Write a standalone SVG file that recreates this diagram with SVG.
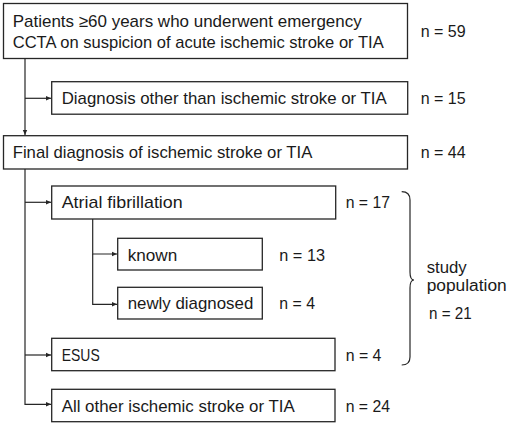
<svg xmlns="http://www.w3.org/2000/svg" width="510" height="426" viewBox="0 0 510 426">
<defs>
<style>
.box{fill:#fff;stroke:#262626;stroke-width:1.3}
.t{font-family:"Liberation Sans",Arial,sans-serif;font-size:17px;fill:#1a1a1a}
.s{font-size:16px}
.c{fill:none;stroke:#262626;stroke-width:1.2}
</style>
<marker id="ah" markerWidth="6" markerHeight="6" refX="5" refY="3" orient="auto" markerUnits="userSpaceOnUse">
<path d="M0,0.8 L5,3 L0,5.2 Z" fill="#262626"/>
</marker>
</defs>
<rect width="510" height="426" fill="#fff"/>
<g id="connectors">
<path class="c" d="M25,58.5 V135" marker-end="url(#ah)"/>
<path class="c" d="M25,98.3 H51" marker-end="url(#ah)"/>
<path class="c" d="M25,169 V404.3 H51" marker-end="url(#ah)"/>
<path class="c" d="M25,202.3 H51" marker-end="url(#ah)"/>
<path class="c" d="M25,355 H51" marker-end="url(#ah)"/>
<path class="c" d="M92.7,219 V254 H117" marker-end="url(#ah)"/>
<path class="c" d="M92.7,254 V304.3 H117" marker-end="url(#ah)"/>
<path class="c" d="M401.7,191.7 Q410,191.7 410,200 L410,272 Q410,280 414,280 Q410,280 410,288 L410,357 Q410,365 401.7,365"/>
</g>
<g id="n1"><rect class="box" x="3.5" y="3.5" width="404" height="55"/>
<text class="t" x="12.7" y="26.7" textLength="349" lengthAdjust="spacingAndGlyphs">Patients ≥60 years who underwent emergency</text>
<text class="t" x="12.7" y="48" textLength="371" lengthAdjust="spacingAndGlyphs">CCTA on suspicion of acute ischemic stroke or TIA</text>
<text class="t" x="420.7" y="37" textLength="45" lengthAdjust="spacingAndGlyphs">n = 59</text></g>
<g id="n2"><rect class="box" x="51.7" y="81.7" width="356" height="32.5"/>
<text class="t" x="61.7" y="104" textLength="325" lengthAdjust="spacingAndGlyphs">Diagnosis other than ischemic stroke or TIA</text>
<text class="t" x="420.7" y="104" textLength="45" lengthAdjust="spacingAndGlyphs">n = 15</text></g>
<g id="n3"><rect class="box" x="3.5" y="135.7" width="404" height="33.3"/>
<text class="t" x="12.7" y="158.3" textLength="299.6" lengthAdjust="spacingAndGlyphs">Final diagnosis of ischemic stroke or TIA</text>
<text class="t" x="420.7" y="158.3" textLength="45" lengthAdjust="spacingAndGlyphs">n = 44</text></g>
<g id="n4"><rect class="box" x="51.7" y="186" width="284" height="33"/>
<text class="t" x="61.7" y="208.3" textLength="121" lengthAdjust="spacingAndGlyphs">Atrial fibrillation</text>
<text class="t" x="345.7" y="208.3" textLength="44.3" lengthAdjust="spacingAndGlyphs">n = 17</text></g>
<g id="n5"><rect class="box" x="117.7" y="238.3" width="144.6" height="31.7"/>
<text class="t" x="127.7" y="260.7" textLength="49.6" lengthAdjust="spacingAndGlyphs">known</text>
<text class="t" x="279.3" y="260.7" textLength="45.7" lengthAdjust="spacingAndGlyphs">n = 13</text></g>
<g id="n6"><rect class="box" x="117.7" y="287.3" width="144.6" height="31.7"/>
<text class="t" x="127.7" y="309.3" textLength="125.6" lengthAdjust="spacingAndGlyphs">newly diagnosed</text>
<text class="t" x="279.3" y="309.3" textLength="35.7" lengthAdjust="spacingAndGlyphs">n = 4</text></g>
<g id="n7"><rect class="box" x="51.7" y="338.3" width="283.3" height="32.4"/>
<text class="t" x="61.7" y="360.7" textLength="38" lengthAdjust="spacingAndGlyphs">ESUS</text>
<text class="t" x="345.7" y="360.7" textLength="35.7" lengthAdjust="spacingAndGlyphs">n = 4</text></g>
<g id="n8"><rect class="box" x="51.7" y="389.3" width="283.3" height="32.4"/>
<text class="t" x="61.7" y="412.3" textLength="233" lengthAdjust="spacingAndGlyphs">All other ischemic stroke or TIA</text>
<text class="t" x="345.7" y="412.3" textLength="44.3" lengthAdjust="spacingAndGlyphs">n = 24</text></g>
<g id="study">
<text class="t s" x="426.7" y="273" textLength="40" lengthAdjust="spacingAndGlyphs">study</text>
<text class="t s" x="426.7" y="291" textLength="80" lengthAdjust="spacingAndGlyphs">population</text>
<text class="t" x="429" y="319" textLength="42.7" lengthAdjust="spacingAndGlyphs">n = 21</text>
</g>
</svg>
